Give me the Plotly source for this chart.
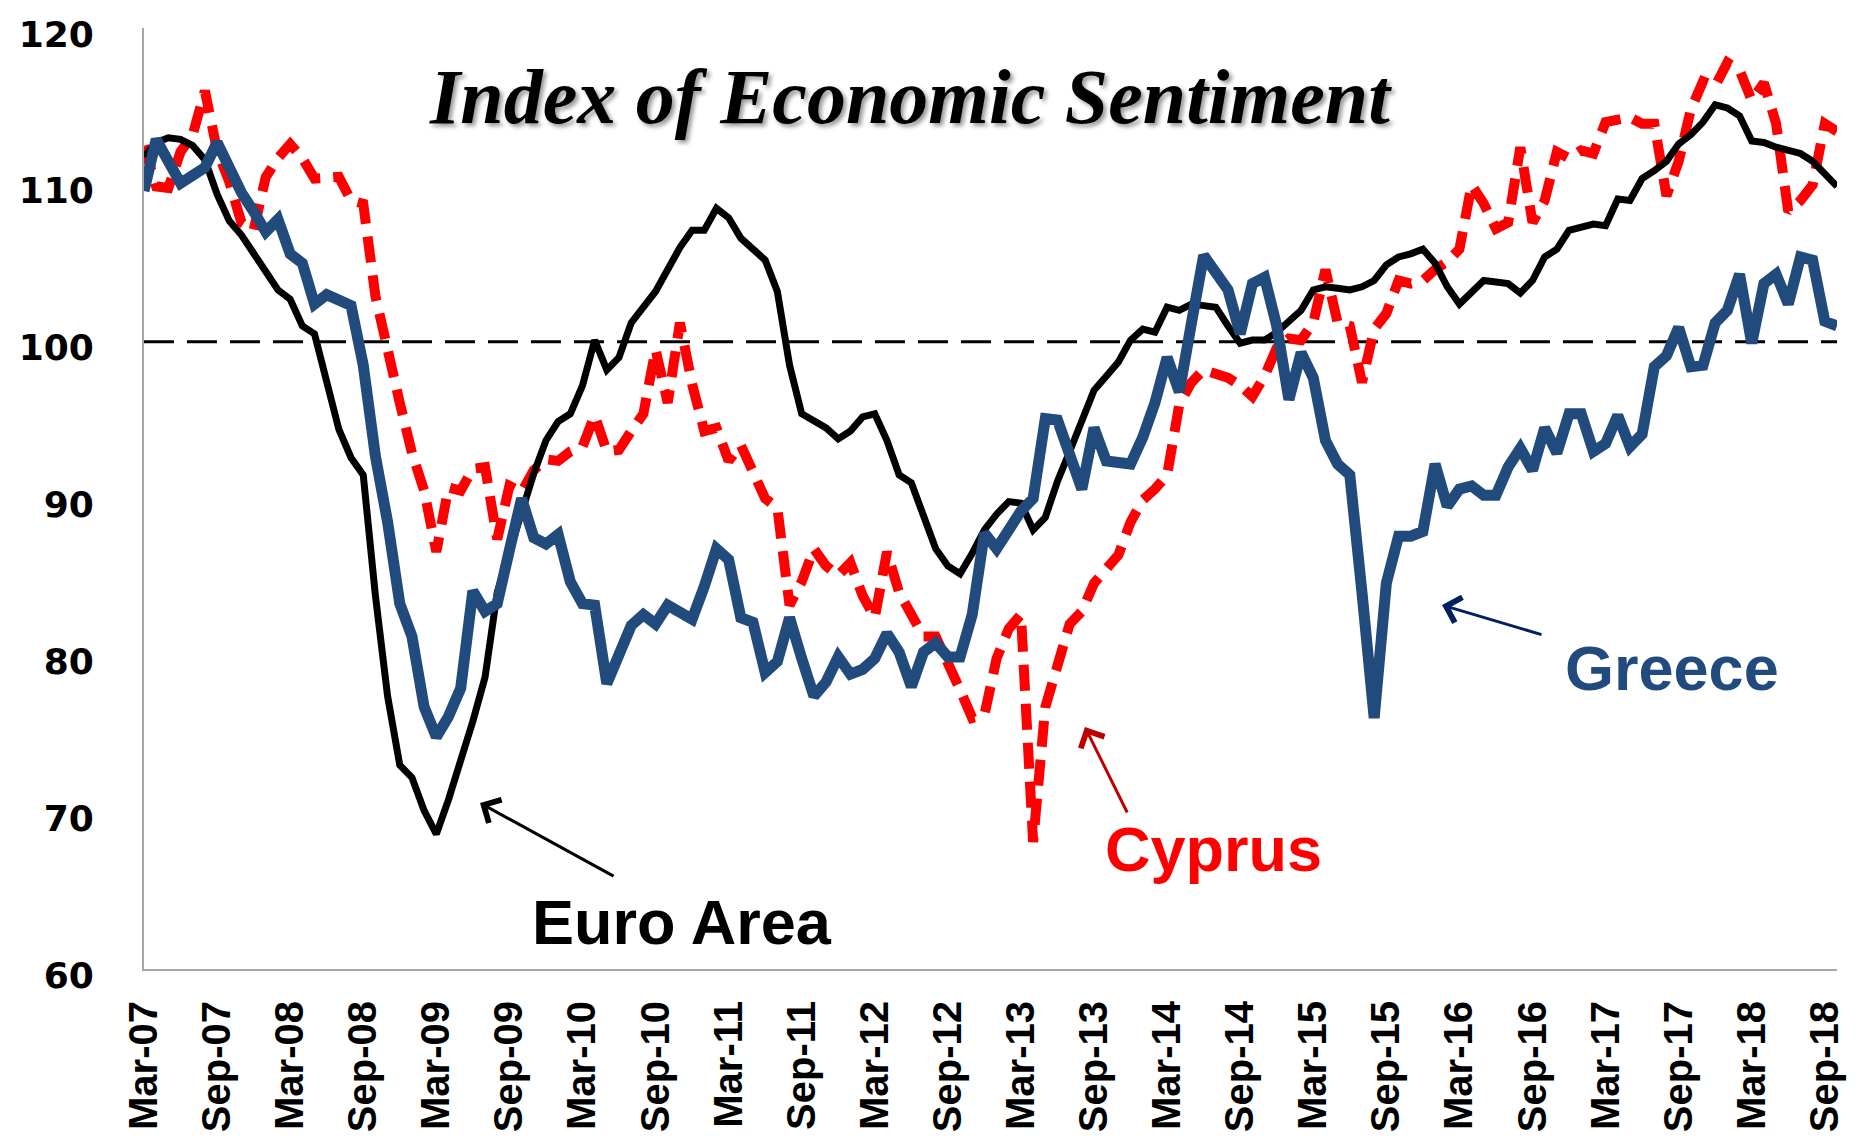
import pandas as pd
import plotly.graph_objects as go

# monthly categories Mar-07 .. Oct-18
months = list(pd.date_range("2007-03-01", periods=140, freq="MS").strftime("%b-%y"))

euro_area = [
    111.8, 112.7, 113.0, 112.9, 112.5, 111.6, 109.4, 107.7, 106.8, 105.6,
    104.5, 103.3, 102.7, 101.0, 100.5, 97.6, 94.4, 92.6, 91.5, 83.8,
    77.4, 73.0, 72.2, 70.1, 68.6, 70.8, 73.2, 75.8, 78.6, 84.0,
    86.6, 89.2, 91.6, 93.7, 94.9, 95.4, 97.2, 100.1, 98.2, 99.0,
    101.2, 102.2, 103.2, 104.6, 106.0, 107.1, 107.1, 108.5, 107.9, 106.6,
    105.9, 105.2, 103.2, 98.5, 95.4, 95.0, 94.5, 93.8, 94.3, 95.2,
    95.4, 93.7, 91.5, 91.0, 88.8, 86.8, 85.7, 85.2, 86.5, 88.0,
    89.0, 89.8, 89.7, 88.0, 88.8, 91.1, 93.0, 95.1, 96.9, 97.8,
    98.7, 100.1, 100.8, 100.6, 102.2, 102.0, 102.4, 102.3, 102.2, 101.0,
    99.9, 100.1, 100.1, 100.6, 101.3, 102.0, 103.3, 103.5, 103.4, 103.3,
    103.5, 103.9, 104.9, 105.4, 105.6, 105.9, 105.0, 103.5, 102.4, 103.1,
    103.9, 103.8, 103.7, 103.1, 103.9, 105.4, 105.9, 107.1, 107.3, 107.5,
    107.4, 109.1, 109.0, 110.4, 110.9, 111.5, 112.6, 113.2, 114.0, 115.1,
    114.9, 114.4, 112.8, 112.7, 112.4, 112.2, 112.0, 111.5, 110.7, 109.9,
]

greece = [
    109.6, 112.9, 111.5, 110.1, 110.6, 111.1, 112.7, 111.0, 109.5, 108.3,
    107.0, 107.8, 105.6, 105.0, 102.4, 103.0, 102.7, 102.3, 98.5, 92.7,
    88.5, 83.3, 81.2, 76.7, 74.8, 76.1, 77.9, 84.1, 82.8, 83.3,
    86.7, 90.0, 87.5, 87.1, 87.7, 84.7, 83.3, 83.2, 78.2, 80.0,
    81.9, 82.6, 82.0, 83.2, 82.8, 82.3, 84.4, 86.8, 86.1, 82.4,
    82.1, 78.9, 79.6, 82.4, 79.8, 77.4, 78.3, 79.9, 78.8, 79.1,
    79.8, 81.4, 80.2, 78.0, 80.2, 80.8, 79.9, 79.9, 82.6, 87.8,
    86.8, 88.1, 89.2, 90.0, 95.1, 95.0, 92.8, 90.6, 94.5, 92.4,
    92.3, 92.2, 93.9, 96.1, 99.0, 96.8, 101.2, 105.5, 104.4, 103.3,
    100.5, 103.7, 104.1, 101.0, 96.3, 99.3, 97.7, 93.7, 92.2, 91.5,
    84.0, 76.0, 84.6, 87.6, 87.6, 87.9, 92.2, 89.5, 90.6, 90.8,
    90.2, 90.2, 92.0, 93.2, 91.8, 94.5, 92.9, 95.4, 95.4, 93.0,
    93.5, 95.3, 93.3, 94.1, 98.4, 99.1, 100.9, 98.4, 98.5, 101.2,
    102.0, 104.3, 99.9, 103.7, 104.3, 102.4, 105.4, 105.2, 101.3, 101.0,
]

cyprus = [
    112.5, 109.9, 109.8, 112.1, 113.2, 116.0, 112.2, 110.2, 107.6, 107.1,
    110.5, 111.7, 112.6, 111.7, 110.4, 110.5, 110.5, 109.0, 108.8, 102.9,
    99.3, 96.1, 92.9, 90.5, 86.6, 90.7, 90.5, 91.9, 92.0, 87.4,
    90.8, 90.4, 91.8, 92.5, 92.4, 93.0, 93.3, 95.3, 93.0, 93.1,
    94.3, 95.4, 99.5, 96.1, 101.2, 97.3, 94.3, 94.5, 92.4, 93.4,
    91.7, 90.0, 89.4, 83.2, 84.7, 86.8, 85.7, 85.1, 85.9, 83.8,
    82.4, 86.6, 84.0, 82.6, 81.2, 81.2, 79.3, 77.8, 76.0, 76.2,
    79.8, 81.7, 82.6, 68.1, 76.7, 79.2, 82.0, 82.8, 84.6, 85.5,
    86.4, 88.5, 89.9, 90.6, 91.5, 96.0, 97.4, 98.2, 98.0, 97.7,
    97.2, 96.5, 97.8, 99.6, 100.2, 100.1, 101.2, 104.6, 101.2, 101.0,
    97.4, 100.8, 101.8, 103.9, 103.7, 103.9, 104.6, 105.1, 105.9, 110.0,
    108.8, 107.2, 107.6, 112.4, 107.6, 109.0, 112.1, 111.7, 112.2, 112.0,
    114.0, 114.2, 114.3, 113.9, 113.9, 109.3, 111.5, 114.8, 116.6, 116.3,
    117.8, 117.3, 115.4, 116.5, 113.9, 108.3, 109.0, 110.0, 113.9, 113.4,
]

y_ticks = [60, 70, 80, 90, 100, 110, 120]
x_ticks = months[::6]

BLUE = "#214A7D"

fig = go.Figure()
fig.add_trace(go.Scatter(x=months, y=cyprus, mode="lines", name="Cyprus",
                         line=dict(color="#FF0000", width=10, dash="26px,13px")))
fig.add_trace(go.Scatter(x=months, y=euro_area, mode="lines", name="Euro Area",
                         line=dict(color="black", width=7)))
fig.add_trace(go.Scatter(x=months, y=greece, mode="lines", name="Greece",
                         line=dict(color=BLUE, width=11)))

# reference line at 100
fig.add_shape(type="line", xref="paper", x0=0, x1=1, yref="y", y0=100, y1=100,
              line=dict(color="black", width=3, dash="30px,13px"), layer="below")

fig.add_annotation(text="Index of Economic Sentiment", xref="paper", yref="paper",
                   x=0.453, y=0.927, xanchor="center", yanchor="middle", showarrow=False,
                   font=dict(family="Liberation Serif", size=78, color="black",
                             weight="bold", style="italic", shadow="3px 3px 4px #999"))

label_font = dict(family="Liberation Sans", size=63, weight="bold")
for txt, lx, ly, col in [("Euro Area", 0.318, 0.050, "black"),
                         ("Cyprus", 0.632, 0.128, "#FF0000"),
                         ("Greece", 0.9026, 0.320, BLUE)]:
    fig.add_annotation(text=txt, xref="paper", yref="paper", x=lx, y=ly,
                       xanchor="center", yanchor="middle", showarrow=False,
                       font=dict(label_font, color=col))

# arrows
for hx, hy, ax, ay, col in [(0.1985, 0.1764, 135, 74, "black"),
                            (0.5558, 0.2572, 43, 87, "#C00000"),
                            (0.7667, 0.3868, 101, 30, "#002060")]:
    fig.add_annotation(xref="paper", yref="paper", x=hx, y=hy, ax=ax, ay=ay, text="",
                       showarrow=True, arrowhead=4, arrowsize=1.7, arrowwidth=3,
                       arrowcolor=col)

fig.update_xaxes(type="category", tickvals=x_ticks, ticktext=x_ticks, tickangle=-90,
                 showgrid=False, zeroline=False, showline=True, linecolor="#A6A6A6",
                 linewidth=2, ticks="", ticklabelstandoff=14, automargin=False,
                 ticklabeloverflow="allow",
                 tickfont=dict(family="Liberation Sans", size=40, color="black", weight="bold"))
fig.update_yaxes(range=[60, 120], tickvals=y_ticks, showgrid=False, zeroline=False,
                 showline=True, linecolor="#A6A6A6", linewidth=2, ticks="",
                 ticklabelstandoff=41, ticklabelshift=6, automargin=False,
                 ticklabeloverflow="allow",
                 tickfont=dict(family="DejaVu Sans", size=36, color="black", weight="bold"))

# page body adds an 8px offset, so the figure is a little smaller than the window
fig.update_layout(width=1857, height=1131, showlegend=False,
                  plot_bgcolor="white", paper_bgcolor="white",
                  margin=dict(l=136, r=28, t=20, b=170))

fig.write_html("out.html")
